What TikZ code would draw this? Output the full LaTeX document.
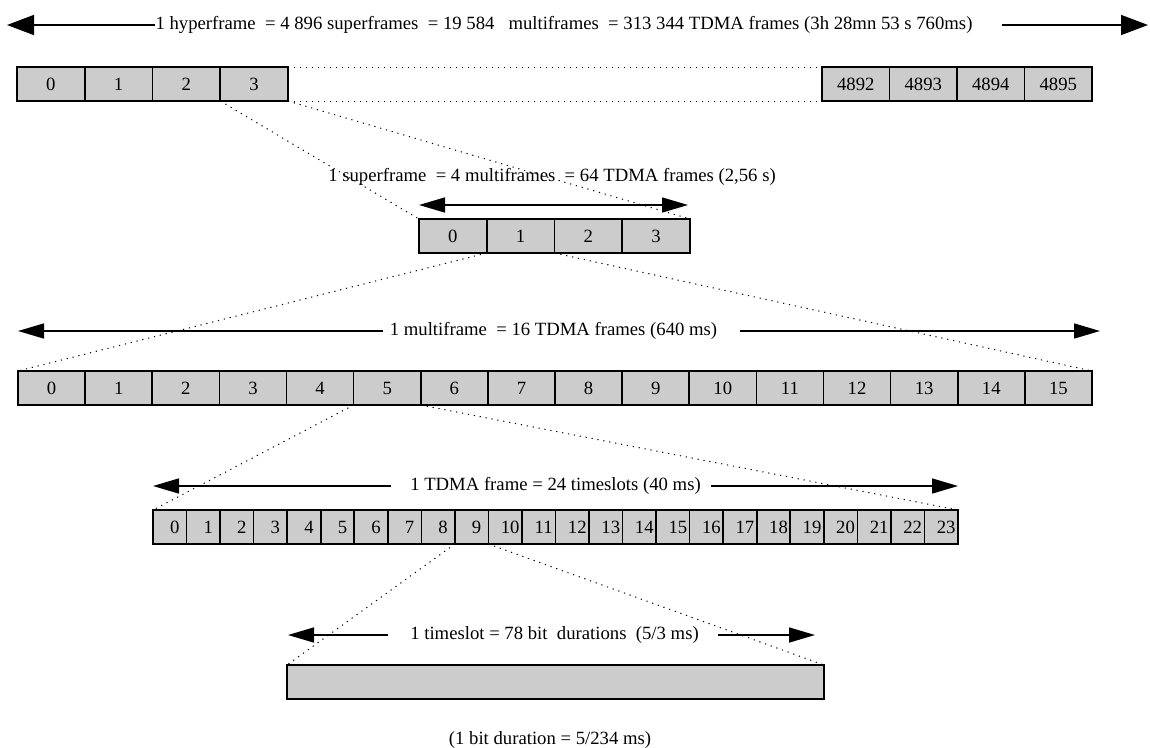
\documentclass[tikz,border=0pt]{standalone}
\usepackage{fontspec}
\setmainfont{Liberation Serif}
\usetikzlibrary{arrows.meta}

\begin{document}
\begin{tikzpicture}[x=1pt, y=-1pt,
    cell/.style={draw, fill=black!20, line width=1.6pt, minimum height=34pt, inner sep=0pt, outer sep=0pt, font=\fontsize{18.7}{22}\selectfont},
    lbl/.style={inner sep=0pt, font=\fontsize{18.7}{22}\selectfont},
    dimline/.style={line width=1.5pt, -{Triangle[length=26pt,width=15pt]}},
    zoomline/.style={line width=1pt, dash pattern=on 1.2pt off 4.8pt}]
        \useasboundingbox (0,0) rectangle (1150,747); % page size

        % Hyperframe: first and last superframes
        \foreach \i in {0,...,3}
            \node[cell, minimum width=67.75pt] (hyp\i) at (17+67.75*\i+33.875,84) {\i};
        \foreach \i [count=\k from 0] in {4892,...,4895}
            \node[cell, minimum width=67.5pt] (hyp\i) at (822+67.5*\k+33.75,84) {\i};
        \draw[zoomline] (hyp3.north east) -- (hyp4892.north west); % gap between the two ends
        \draw[zoomline] (hyp3.south east) -- (hyp4892.south west);

        % Hyperframe length
        \node[lbl] (hyptxt) at (564,25) {1 hyperframe~ = 4 896 superframes~ = 19 584~~ multiframes~ = 313 344 TDMA frames (3h 28mn 53 s 760ms)};
        \coordinate (hypL) at (7,25);
        \coordinate (hypR) at (1148,25);
        \draw[dimline, -{Triangle[length=27pt,width=20pt]}] (hyptxt.west) -- (hypL);
        \draw[dimline, -{Triangle[length=27pt,width=20pt]}, shorten <=29pt] (hyptxt.east) -- (hypR);

        % Superframe
        \node[lbl] (suptxt) at (552,177) {1 superframe~ = 4 multiframes~ = 64 TDMA frames (2,56 s)};
        \foreach \i in {0,...,3}
            \node[cell, minimum width=67.75pt] (sup\i) at (419+67.75*\i+33.875,236) {\i};
        \coordinate (supL) at (419,205);
        \coordinate (supR) at (688,205);
        \draw[dimline, {Triangle[length=26pt,width=15pt]}-{Triangle[length=26pt,width=15pt]}] (supL) -- (supR);
        \draw[zoomline] (hyp3.south west) -- (sup0.north west); % superframe 3 expanded
        \draw[zoomline] (hyp3.south east) -- (sup3.north east);

        % Multiframe
        \node[lbl] (multxt) at (553.5,331) {1 multiframe~ = 16 TDMA frames (640 ms)};
        \coordinate (mulL) at (18,331);
        \coordinate (mulR) at (1100,331);
        \draw[dimline, shorten <=7pt] (multxt.west) -- (mulL);
        \draw[dimline, shorten <=23pt] (multxt.east) -- (mulR);
        \foreach \i in {0,...,15}
            \node[cell, minimum width=67.125pt] (mul\i) at (18+67.125*\i+33.5625,388) {\i};
        \draw[zoomline] (sup1.south west) -- (mul0.north west); % multiframe 1 expanded
        \draw[zoomline] (sup1.south east) -- (mul15.north east);

        % TDMA frame
        \node[lbl] (tdmatxt) at (555.5,486) {1 TDMA frame = 24 timeslots (40 ms)};
        \coordinate (tdmaL) at (153,486);
        \coordinate (tdmaR) at (958,486);
        \draw[dimline, shorten <=19pt] (tdmatxt.west) -- (tdmaL);
        \draw[dimline, shorten <=10pt] (tdmatxt.east) -- (tdmaR);
        \foreach \i in {0,...,23}
            \node[cell, minimum width=33.54pt] (tdma\i) at (153+33.54*\i+16.77,527) {\kern10pt\i};
        \draw[zoomline] (mul5.south west) -- (tdma0.north west); % TDMA frame 5 expanded
        \draw[zoomline] (mul5.south east) -- (tdma23.north east);

        % Timeslot
        \node[lbl] (slottxt) at (554.5,635) {1 timeslot = 78 bit~ durations~ (5/3 ms)};
        \coordinate (slotL) at (288,635);
        \coordinate (slotR) at (815,635);
        \draw[dimline, shorten <=22pt] (slottxt.west) -- (slotL);
        \draw[dimline, shorten <=19pt] (slottxt.east) -- (slotR);
        \node[cell, minimum width=537pt] (slot) at (555.5,682) {};
        \draw[zoomline] (tdma9.south west) -- (slot.north west); % timeslot 9 expanded
        \draw[zoomline] (tdma9.south east) -- (slot.north east);

        % Bit duration
        \node[lbl] (bittxt) at (550,740) {(1 bit duration = 5/234 ms)};
\end{tikzpicture}
\end{document}
